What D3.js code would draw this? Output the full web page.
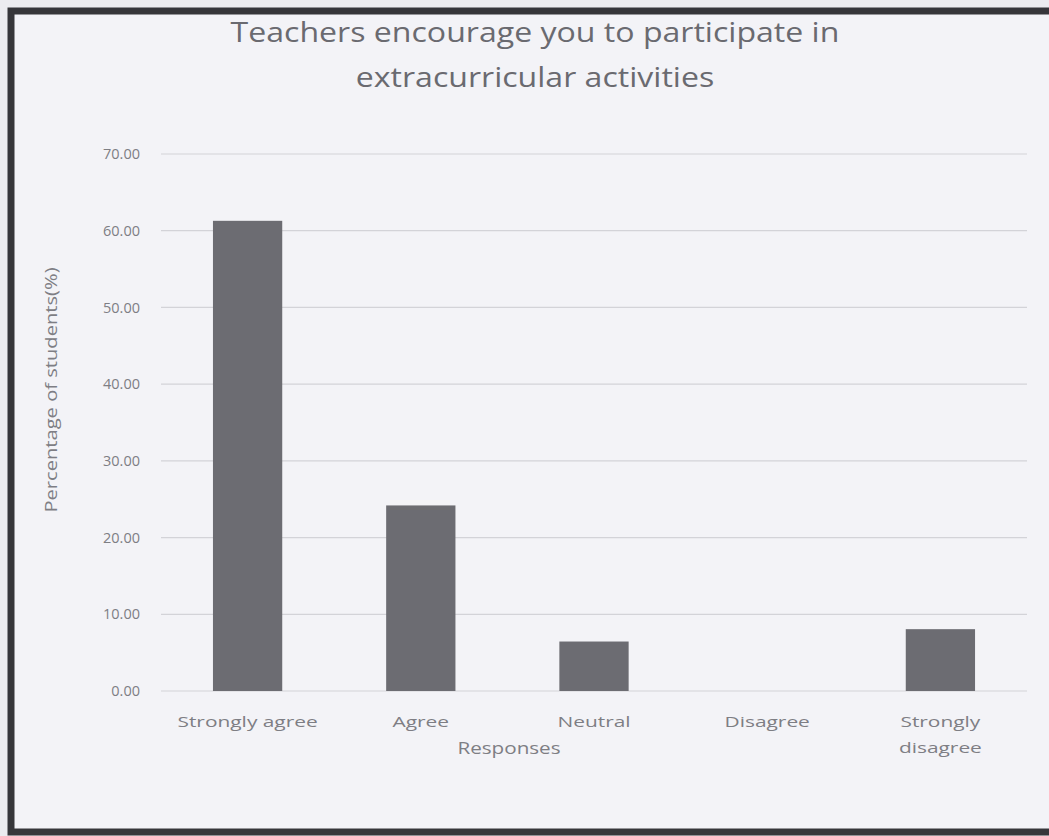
<!DOCTYPE html>
<html>
<head>
<meta charset="utf-8">
<script src="https://cdn.jsdelivr.net/npm/d3@7"></script>
<style>
  html, body { margin: 0; padding: 0; background: #f1f1f5; }
  svg { display: block; }
</style>
</head>
<body>
<svg id="chart" width="1049" height="836"></svg>
<script>
const titleLines = ["Teachers encourage you to participate in", "extracurricular activities"];
const categories = ["Strongly agree", "Agree", "Neutral", "Disagree", "Strongly disagree"];
const categoryLabelLines = [["Strongly agree"], ["Agree"], ["Neutral"], ["Disagree"], ["Strongly", "disagree"]];
const values = [61.29, 24.19, 6.45, 0.00, 8.06];
const yTicks = [0, 10, 20, 30, 40, 50, 60, 70];
const yAxisTitle = "Percentage of students(%)";
const xAxisTitle = "Responses";

const svg = d3.select("#chart");
const font = "'Open Sans', 'DejaVu Sans', sans-serif";
const textColor = "#7e7e84";

function stretch(sel, factor) {
  sel.each(function() {
    const w = this.getComputedTextLength();
    d3.select(this).attr("textLength", w * factor).attr("lengthAdjust", "spacingAndGlyphs");
  });
}

// background and frame
svg.append("rect").attr("x", 0).attr("y", 0).attr("width", 1049).attr("height", 836).attr("fill", "#ececf0");
svg.append("rect").attr("x", 11).attr("y", 11).attr("width", 1060).attr("height", 821)
  .attr("fill", "#f3f3f7").attr("stroke", "#36363a").attr("stroke-width", 7);

const x = d3.scaleBand().domain(categories).range([161, 1027]).paddingInner(0.6).paddingOuter(0.3);
const y = d3.scaleLinear().domain([0, 70]).range([691, 154]);

// gridlines
svg.append("g").selectAll("line").data(yTicks).join("line")
  .attr("x1", 161).attr("x2", 1027)
  .attr("y1", d => y(d)).attr("y2", d => y(d))
  .attr("stroke", "#d3d3d8").attr("stroke-width", 1.2);

// y axis labels
const yAxis = d3.axisLeft(y).tickValues(yTicks).tickFormat(d3.format(".2f")).tickSize(0).tickPadding(0);
const yg = svg.append("g").attr("transform", "translate(140,0)").call(yAxis);
yg.select(".domain").remove();
yg.selectAll("text").attr("font-family", font).attr("font-size", 14.5).attr("fill", textColor);

// bars
svg.append("g").selectAll("rect").data(values).join("rect")
  .attr("x", (d, i) => x(categories[i]))
  .attr("width", x.bandwidth())
  .attr("y", d => y(d))
  .attr("height", d => y(0) - y(d))
  .attr("fill", "#6c6c72");

// x labels (one text element per line)
const labelData = [];
categories.forEach((c, i) => categoryLabelLines[i].forEach((t, j) => labelData.push({ c, t, j })));
const xl = svg.append("g").selectAll("text").data(labelData).join("text")
  .attr("x", d => x(d.c) + x.bandwidth() / 2)
  .attr("y", d => 727 + d.j * 26)
  .attr("text-anchor", "middle")
  .attr("font-family", font).attr("font-size", 14.5).attr("fill", textColor)
  .text(d => d.t);
stretch(xl, 1.44);

// axis titles
const xt = svg.append("text").attr("x", 509).attr("y", 754).attr("text-anchor", "middle")
  .attr("font-family", font).attr("font-size", 16).attr("fill", textColor).text(xAxisTitle);
stretch(xt, 1.29);
const yt = svg.append("text").attr("transform", "translate(57,390) rotate(-90)").attr("text-anchor", "middle")
  .attr("font-family", font).attr("font-size", 16.5).attr("fill", textColor).text(yAxisTitle);
stretch(yt, 1.22);

// title
const tt = svg.append("g").selectAll("text").data(titleLines).join("text")
  .attr("x", 535).attr("y", (d, i) => 42 + i * 45)
  .attr("text-anchor", "middle")
  .attr("font-family", font).attr("font-size", 26.5).attr("fill", "#6a6a70")
  .text(d => d);
stretch(tt, 1.21);
</script>
</body>
</html>
